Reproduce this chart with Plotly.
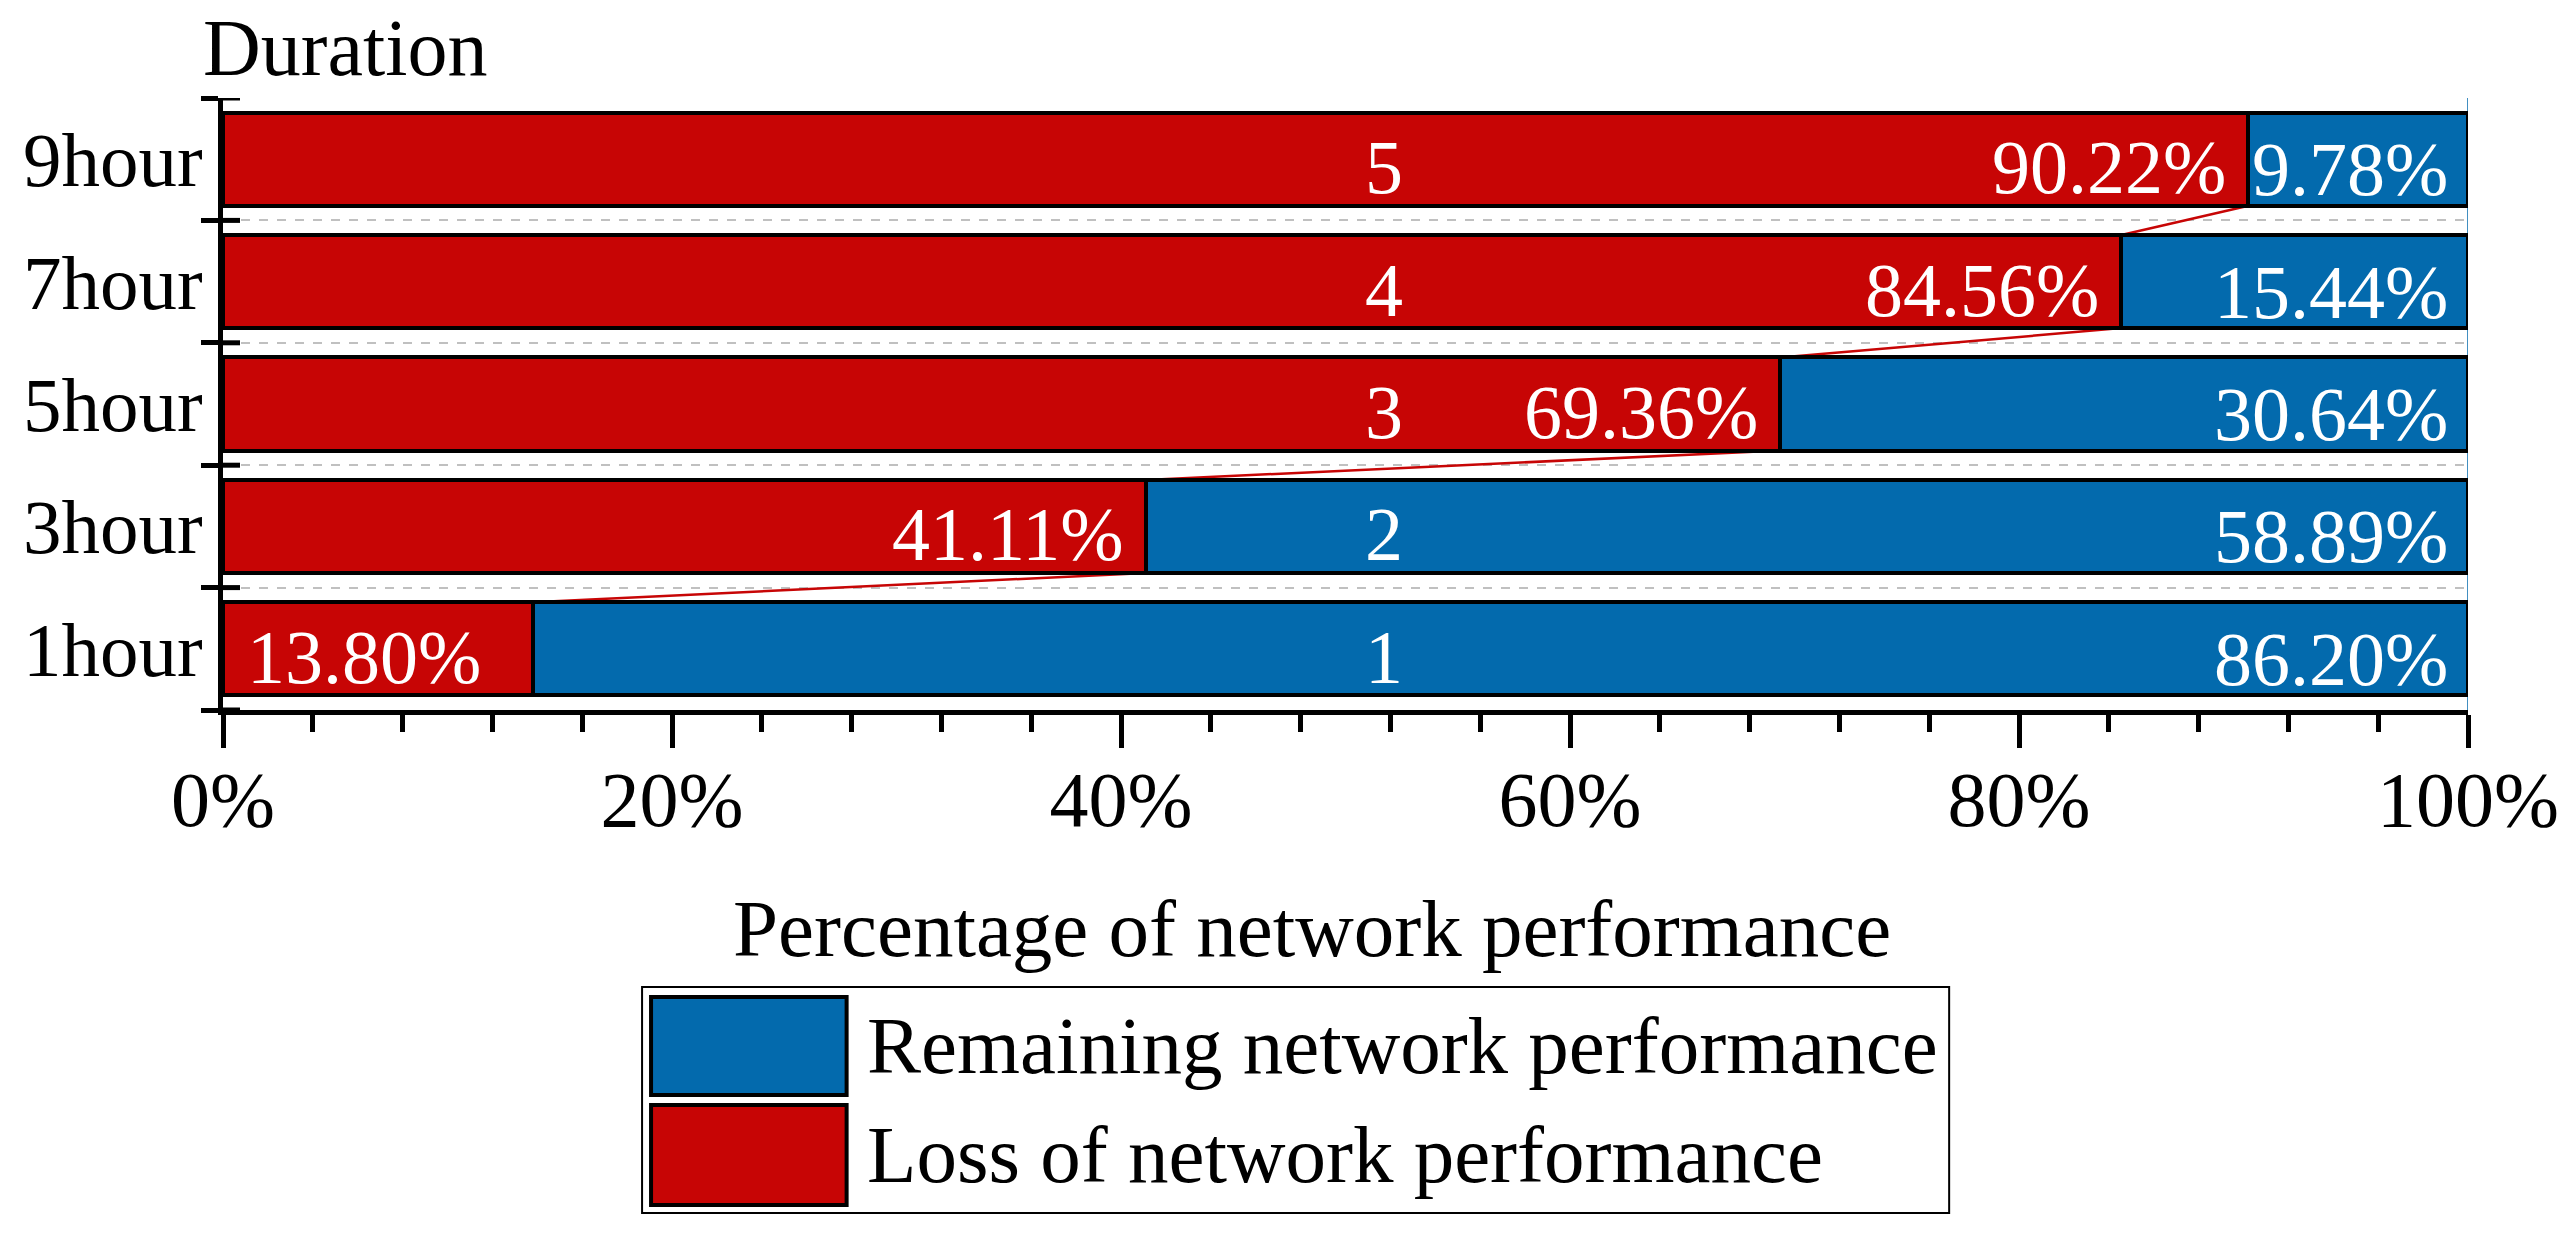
import plotly.graph_objects as go

# ---- data ----
durations = ["1hour", "3hour", "5hour", "7hour", "9hour"]
loss = [13.80, 41.11, 69.36, 84.56, 90.22]
remaining = [86.20, 58.89, 30.64, 15.44, 9.78]
stage_labels = ["1", "2", "3", "4", "5"]
x_ticks = [0, 20, 40, 60, 80, 100]
x_tick_text = ["0%", "20%", "40%", "60%", "80%", "100%"]

# ---- style ----
RED = "#C70505"
BLUE = "#036AAD"
FONT = "Liberation Serif"
BAR_W = 0.76
LABEL_SIZE = 76
loss_anchor = ["start", "end", "end", "end", "end"]
stage_x = 51.7

fig = go.Figure()
fig.add_trace(go.Bar(
    y=durations, x=loss, orientation="h", name="Loss of network performance",
    marker=dict(color=RED, line=dict(color="black", width=4)), width=BAR_W,
    showlegend=False, hoverinfo="skip"))
fig.add_trace(go.Bar(
    y=durations, x=remaining, orientation="h", name="Remaining network performance",
    marker=dict(color=BLUE, line=dict(color="black", width=4)), width=BAR_W,
    showlegend=False, hoverinfo="skip"))

ann = []
shapes = []
for i, d in enumerate(durations):
    if loss_anchor[i] == "start":
        ann.append(dict(x=0, y=i, xref="x", yref="y", text=f"{loss[i]:.2f}%",
                        xanchor="left", xshift=22, yshift=-8, showarrow=False,
                        font=dict(family=FONT, size=LABEL_SIZE, color="white")))
    else:
        ann.append(dict(x=loss[i], y=i, xref="x", yref="y", text=f"{loss[i]:.2f}%",
                        xanchor="right", xshift=-20, yshift=-8, showarrow=False,
                        font=dict(family=FONT, size=LABEL_SIZE, color="white")))
    ann.append(dict(x=loss[i] + remaining[i], y=i, xref="x", yref="y",
                    text=f"{remaining[i]:.2f}%", xanchor="right", xshift=-18, yshift=-10,
                    showarrow=False, font=dict(family=FONT, size=LABEL_SIZE, color="white")))
    ann.append(dict(x=stage_x, y=i, xref="x", yref="y", text=stage_labels[i],
                    xanchor="center", yshift=-8, showarrow=False,
                    font=dict(family=FONT, size=LABEL_SIZE, color="white")))

# connectors between red ends
for k in range(1, len(durations)):
    shapes.append(dict(type="line", xref="x", yref="y", layer="between",
                       x0=loss[k], y0=k - BAR_W / 2, x1=loss[k - 1], y1=k - 1 + BAR_W / 2,
                       line=dict(color=RED, width=2.5)))

# inner part of y ticks (crossing ticks)
for b in range(len(durations) + 1):
    shapes.append(dict(type="line", xref="x", yref="y", xsizemode="pixel", xanchor=0,
                       x0=0, x1=17, y0=b - 0.5, y1=b - 0.5,
                       line=dict(color="black", width=5)))

# thin blue right edge line
shapes.append(dict(type="line", xref="x", yref="y", layer="between",
                   x0=100, x1=100, y0=-0.5, y1=len(durations) - 0.5,
                   line=dict(color=BLUE, width=1.5)))

# ---- manual legend (positions in screen px relative to plot area) ----
def px2x(px):
    return (px - 223) / 2250.0

def py2y(py):
    return (710 - py) / 612.0

shapes.append(dict(type="rect", xref="paper", yref="paper",
                   x0=px2x(643), x1=px2x(1953), y0=py2y(987), y1=py2y(1213),
                   line=dict(color="black", width=2), fillcolor="white"))
legend_items = [("Remaining network performance", BLUE, 997, 1095),
                ("Loss of network performance", RED, 1105, 1205)]
for name, col, top, bot in legend_items:
    shapes.append(dict(type="rect", xref="paper", yref="paper",
                       x0=px2x(652), x1=px2x(848), y0=py2y(top), y1=py2y(bot),
                       line=dict(color="black", width=4), fillcolor=col))
    ann.append(dict(x=px2x(866), y=py2y((top + bot) / 2), xref="paper", yref="paper",
                    text=name, xanchor="left", yanchor="middle", showarrow=False,
                    font=dict(family=FONT, size=81, color="black")))

# titles
ann.append(dict(x=px2x(201), y=1, xref="paper", yref="paper", text="Duration",
                xanchor="left", yanchor="bottom", yshift=4, showarrow=False,
                font=dict(family=FONT, size=80, color="black")))
ann.append(dict(x=px2x(1314), y=0, xref="paper", yref="paper",
                text="Percentage of network performance",
                xanchor="center", yanchor="top", yshift=-172, showarrow=False,
                font=dict(family=FONT, size=81, color="black")))

fig.update_layout(
    width=2571, height=1233, autosize=False,
    margin=dict(l=223, r=98, t=98, b=523),
    barmode="stack",
    plot_bgcolor="white", paper_bgcolor="white",
    font=dict(family=FONT, color="black"),
    annotations=ann, shapes=shapes,
    xaxis=dict(range=[0, 100], tickvals=x_ticks, ticktext=x_tick_text,
               ticks="outside", ticklen=33, tickwidth=4.5, tickcolor="black",
               minor=dict(dtick=4, ticks="outside", ticklen=17, tickwidth=4.5, tickcolor="black"),
               showline=True, linewidth=5, linecolor="black",
               showgrid=False, zeroline=False, ticklabelstandoff=-16,
               ticklabeloverflow="allow",
               tickfont=dict(family=FONT, size=78, color="black")),
    yaxis=dict(type="category", categoryorder="array", categoryarray=durations,
               range=[-0.5, len(durations) - 0.5], tickson="boundaries",
               ticks="outside", ticklen=17, tickwidth=5, tickcolor="black",
               showline=True, linewidth=5, linecolor="black",
               showgrid=True, gridcolor="#c0c0c0", griddash="dash", gridwidth=1.5,
               zeroline=False,
               tickfont=dict(family=FONT, size=77, color="black")),
)

fig.write_html("out.html", config={"displayModeBar": False},
               post_script="document.body.style.margin='0';document.body.style.overflow='hidden';")
